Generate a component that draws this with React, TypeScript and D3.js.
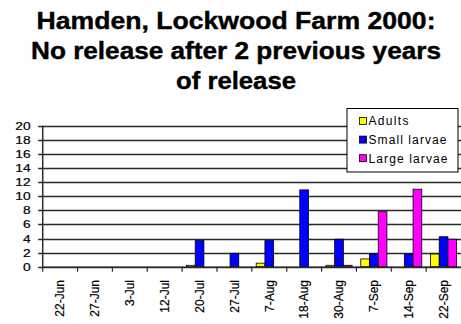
import React from "react";
import * as d3 from "d3";

// Collection dates (x categories)
const dates = [
  "22-Jun", "27-Jun", "3-Jul", "12-Jul", "20-Jul", "27-Jul",
  "7-Aug", "18-Aug", "30-Aug", "7-Sep", "14-Sep", "22-Sep",
];

// Counts per sampling date
const adults = [0, 0, 0, 0, 0.2, 0, 0.5, 0, 0.2, 1.1, 0, 1.8];
const smallLarvae = [0, 0, 0, 0, 3.7, 1.9, 3.7, 10.9, 3.9, 1.8, 1.8, 4.25];
const largeLarvae = [0, 0, 0, 0, 0, 0, 0, 0, 0.2, 7.8, 11.0, 3.9];

const seriesNames = ["Adults", "Small larvae", "Large larvae"];
const seriesColors = ["#ffff00", "#0000ff", "#ff00ff"];
const yTicks = [0, 2, 4, 6, 8, 10, 12, 14, 16, 18, 20];

const titleLines = [
  "Hamden, Lockwood Farm 2000:",
  "No release after 2 previous years",
  "of release",
];
const titleWidths = [399, 410, 120];
const legendWidths = [40, 78, 79];

const W = 461;
const H = 324;
const plot = { left: 42.7, right: 461, top: 125.7, bottom: 266.7 };

export default function App() {
  const series = [adults, smallLarvae, largeLarvae];

  const x = d3.scaleBand<string>().domain(dates).range([plot.left, plot.right]).padding(0);
  const y = d3.scaleLinear().domain([0, 20]).range([plot.bottom, plot.top]);
  const step = x.bandwidth();
  const barW = step / 4; // 100% gap width
  const inner = d3
    .scaleBand<number>()
    .domain([0, 1, 2])
    .range([barW / 2, step - barW / 2])
    .padding(0);

  const font = "'Liberation Sans', Arial, sans-serif";

  return (
    <svg
      width={W}
      height={H}
      viewBox={`0 0 ${W} ${H}`}
      style={{ position: "absolute", left: 0, top: 0, background: "#fff" }}
    >
      <rect x={0} y={0} width={W} height={H} fill="#fff" />

      {/* Title */}
      {titleLines.map((t, i) => (
        <text
          key={t}
          x={236 - titleWidths[i] / 2}
          y={29 + i * 30}
          textLength={titleWidths[i]}
          lengthAdjust="spacingAndGlyphs"
          fontFamily={font}
          fontWeight="bold"
          fontSize={24}
          fill="#000"
          stroke="#000"
          strokeWidth={0.4}
        >
          {t}
        </text>
      ))}

      {/* Horizontal gridlines */}
      {yTicks.map((v) => (
        <line
          key={"g" + v}
          x1={plot.left - 4.5}
          x2={plot.right}
          y1={Math.round(y(v)) + 0.5}
          y2={Math.round(y(v)) + 0.5}
          stroke="#2a2a2a"
          strokeWidth={1.3}
        />
      ))}

      {/* Y axis */}
      <line
        x1={plot.left}
        x2={plot.left}
        y1={plot.top}
        y2={plot.bottom + 0.5}
        stroke="#2a2a2a"
        strokeWidth={1.5}
      />
      {yTicks.map((v) => (
        <text
          key={"yl" + v}
          transform={`translate(30.7,${y(v)}) scale(1.23,1)`}
          dy="0.36em"
          textAnchor="end"
          fontFamily={font}
          fontSize={11.2}
          fill="#000"
          stroke="#000"
          strokeWidth={0.2}
        >
          {v}
        </text>
      ))}

      {/* Bars */}
      {dates.map((d, ci) =>
        series.map((s, si) =>
          s[ci] > 0 ? (
            <rect
              key={d + si}
              x={(x(d) as number) + (inner(si) as number)}
              y={y(s[ci])}
              width={barW}
              height={plot.bottom - y(s[ci])}
              fill={seriesColors[si]}
              stroke="#000"
              strokeWidth={0.8}
            />
          ) : null
        )
      )}

      {/* X axis */}
      <line
        x1={plot.left}
        x2={plot.right}
        y1={plot.bottom + 0.5}
        y2={plot.bottom + 0.5}
        stroke="#2a2a2a"
        strokeWidth={1.5}
      />
      {dates.map((d) => (
        <line
          key={"xt" + d}
          x1={x(d) as number}
          x2={x(d) as number}
          y1={plot.bottom}
          y2={plot.bottom + 5}
          stroke="#2a2a2a"
          strokeWidth={1.2}
        />
      ))}
      {dates.map((d) => (
        <text
          key={"xl" + d}
          transform={`translate(${(x(d) as number) + step / 2},${280}) rotate(-90)`}
          dy="0.36em"
          textAnchor="end"
          fontFamily={font}
          fontSize={12}
          fill="#000"
          stroke="#000"
          strokeWidth={0.2}
        >
          {d}
        </text>
      ))}

      {/* Legend */}
      <rect x={347} y={108.5} width={111} height={63.5} fill="#fff" stroke="#000" strokeWidth={1} />
      {seriesNames.map((n, i) => {
        const cy = 121 + i * 18.6;
        return (
          <g key={n}>
            <rect x={359.5} y={cy - 3.5} width={7} height={7} fill={seriesColors[i]} stroke="#000" strokeWidth={0.8} />
            <text
              x={368.5}
              y={cy}
              dy="0.36em"
              textLength={legendWidths[i]}
              lengthAdjust="spacing"
              fontFamily={font}
              fontSize={12}
              fill="#000"
            >
              {n}
            </text>
          </g>
        );
      })}
    </svg>
  );
}
